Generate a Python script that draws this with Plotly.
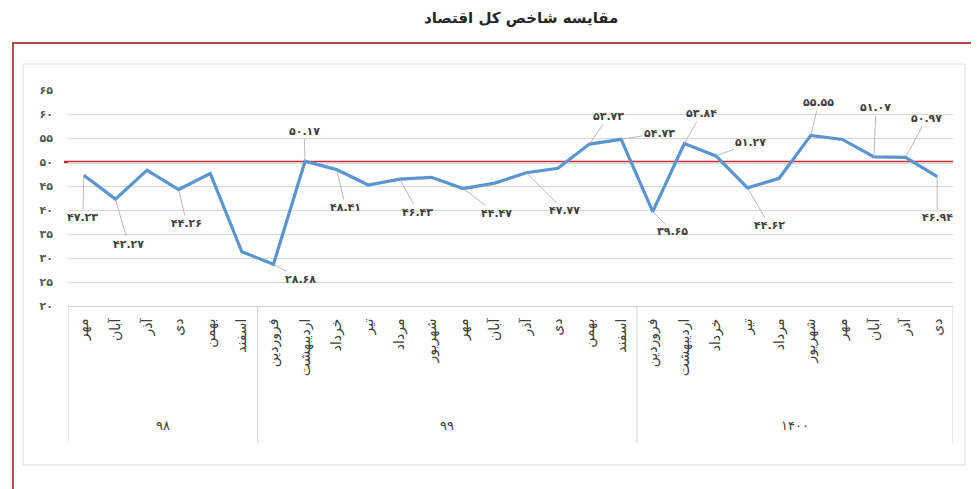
import plotly.graph_objects as go

# ---------------- data ----------------
title_text = "مقایسه شاخص کل اقتصاد"

year_labels = ["۹۸", "۹۹", "۱۴۰۰"]
months_98 = ["مهر", "آبان", "آذر", "دی", "بهمن", "اسفند"]
months_99 = ["فروردین", "اردیبهشت", "خرداد", "تیر", "مرداد", "شهریور",
             "مهر", "آبان", "آذر", "دی", "بهمن", "اسفند"]
months_1400 = ["فروردین", "اردیبهشت", "خرداد", "تیر", "مرداد", "شهریور",
               "مهر", "آبان", "آذر", "دی"]

values_98 = [47.23, 42.27, 48.3, 44.26, 47.6, 31.3]
values_99 = [28.68, 50.17, 48.41, 45.2, 46.43, 46.8,
             44.47, 45.6, 47.77, 48.7, 53.73, 54.73]
values_1400 = [39.65, 53.84, 51.27, 44.62, 46.6, 55.55,
               54.7, 51.07, 50.97, 46.94]

threshold = 50
y_ticks = [20, 25, 30, 35, 40, 45, 50, 55, 60, 65]

# which points carry a data label (index in the full series)
labelled_points = [0, 1, 3, 6, 7, 8, 10, 12, 14, 16, 17, 18, 19, 20, 21, 23, 25, 26, 27]

# ---------------- styling (label offsets in px) ----------------
label_offsets = {
    0: (-1, 42), 1: (13, 45), 3: (8, 34), 6: (27, 15), 7: (-1, -30),
    8: (9, 38), 10: (18, 33), 12: (33, 25), 14: (38, 38), 16: (19, -28),
    17: (38, -6), 18: (20, 20), 19: (17, -30), 20: (35, -13), 21: (22, 38),
    23: (8, -33), 25: (2, -49), 26: (21, -39), 27: (0, 41),
}

FA = str.maketrans("0123456789", "۰۱۲۳۴۵۶۷۸۹")


def fa(v, dec=None):
    s = f"{v:.{dec}f}" if dec is not None else str(v)
    return s.translate(FA)


month_groups = [months_98, months_99, months_1400]
value_groups = [values_98, values_99, values_1400]

month_labels, y_vals = [], []
for ms, vs in zip(month_groups, value_groups):
    month_labels += ms
    y_vals += vs
x_idx = list(range(len(y_vals)))

FONT = "DejaVu Sans"

# page body has an 8px margin -> figure origin is at (8, 8)
OFF = 8
W, H = 979 - OFF, 489 - OFF
L, R, T, B = 68 - OFF, 26, 90 - OFF, 183
PW, PH = W - L - R, H - T - B  # 885 x 216


def px_x(px):  # page pixel -> paper x
    return (px - 68) / PW


def px_y(py):  # page pixel -> paper y
    return (306 - py) / PH


fig = go.Figure()
fig.add_trace(go.Scatter(
    x=x_idx, y=y_vals, mode="lines",
    line=dict(color="#5b95d0", width=3.2),
    hoverinfo="skip", showlegend=False,
))

annotations = []
for i in labelled_points:
    axo, ayo = label_offsets[i]
    annotations.append(dict(
        x=x_idx[i], y=y_vals[i], xref="x", yref="y",
        text="<b>" + fa(y_vals[i], 2) + "</b>",
        showarrow=True, arrowhead=0, arrowwidth=0.8, arrowcolor="#a6a6a6",
        ax=axo, ay=ayo, standoff=0, startstandoff=0,
        font=dict(family=FONT, size=11, color="#404040"),
    ))

# year group labels and dividers
shapes = []
start = 0
bounds = [-0.5]
for yl, ms in zip(year_labels, month_groups):
    end = start + len(ms)
    annotations.append(dict(
        text=yl, xref="x", yref="paper",
        x=(start + end - 1) / 2, y=px_y(425), showarrow=False,
        xanchor="center", yanchor="middle",
        font=dict(family=FONT, size=13, color="#404040"),
    ))
    bounds.append(end - 0.5)
    start = end
for b in bounds:
    shapes.append(dict(type="line", xref="x", yref="paper", x0=b, x1=b,
                       y0=0, y1=px_y(443), line=dict(color="#d0d0d0", width=1)))

annotations.append(dict(
    text="<b>" + title_text + "</b>", xref="paper", yref="paper",
    x=px_x(521), y=px_y(18), xanchor="center", yanchor="middle",
    showarrow=False, font=dict(family=FONT, size=15, color="#262626"),
))

shapes += [
    dict(type="line", xref="paper", yref="y", x0=px_x(64), x1=1.0,
         y0=threshold, y1=threshold, line=dict(color="#c8282d", width=2.6),
         layer="between"),
    dict(type="rect", xref="paper", yref="paper",
         x0=px_x(23), x1=px_x(965), y0=px_y(465), y1=px_y(64),
         line=dict(color="#dcdcdc", width=1), layer="below"),
    dict(type="rect", xref="paper", yref="paper",
         x0=px_x(13), x1=px_x(995), y0=px_y(500), y1=px_y(43),
         line=dict(color="#b5484b", width=2), layer="below"),
]

fig.update_layout(
    width=W, height=H,
    margin=dict(l=L, r=R, t=T, b=B),
    paper_bgcolor="white", plot_bgcolor="white",
    font=dict(family=FONT, color="#404040"),
    annotations=annotations, shapes=shapes,
    xaxis=dict(
        range=[-0.5, len(y_vals) - 0.5],
        tickvals=x_idx, ticktext=month_labels, tickangle=-90,
        tickfont=dict(family=FONT, size=14, color="#404040"),
        showline=True, linecolor="#d0d0d0", linewidth=1,
        showgrid=False, ticks="", zeroline=False, ticklabelstandoff=6,
        fixedrange=True,
    ),
    yaxis=dict(
        range=[20, 65], tickvals=y_ticks,
        ticktext=["<b>" + fa(t) + "</b>" for t in y_ticks],
        tickfont=dict(family=FONT, size=11, color="#595959"),
        showgrid=True, gridcolor="#d9d9d9", gridwidth=1,
        zeroline=False, showline=False, ticks="", ticklabelstandoff=14,
        fixedrange=True,
    ),
)

fig.write_html("out.html")
